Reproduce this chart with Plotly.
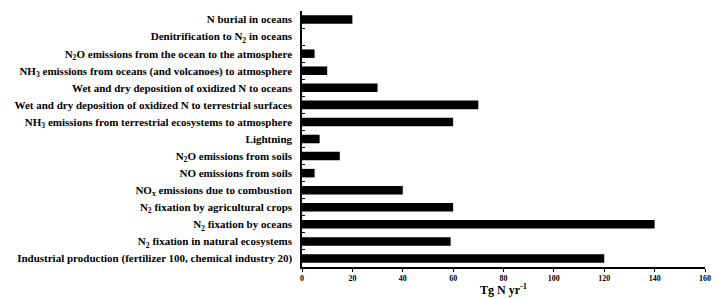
import plotly.graph_objects as go

categories = [
    "Industrial production (fertilizer 100, chemical industry 20)",
    "N<sub>2</sub> fixation in natural ecosystems",
    "N<sub>2</sub> fixation by oceans",
    "N<sub>2</sub> fixation by agricultural crops",
    "NO<sub>x</sub> emissions due to combustion",
    "NO emissions from soils",
    "N<sub>2</sub>O emissions from soils",
    "Lightning",
    "NH<sub>3</sub> emissions from terrestrial ecosystems to atmosphere",
    "Wet and dry deposition of oxidized N to terrestrial surfaces",
    "Wet and dry deposition of oxidized N to oceans",
    "NH<sub>3</sub> emissions from oceans (and volcanoes) to atmosphere",
    "N<sub>2</sub>O emissions from the ocean to the atmosphere",
    "Denitrification to N<sub>2</sub> in oceans",
    "N burial in oceans",
]
values = [120, 59, 140, 60, 40, 5, 15, 7, 60, 70, 30, 10, 5, 0, 20]
x_ticks = [0, 20, 40, 60, 80, 100, 120, 140, 160]

fig = go.Figure(go.Bar(
    x=values, y=categories, orientation="h",
    marker=dict(color="black", line=dict(width=0)),
))
# page body has an 8px margin, so the figure is offset by 8px
fig.update_layout(
    width=709, height=289,
    margin=dict(l=294, r=12, t=3, b=30),
    plot_bgcolor="white", paper_bgcolor="white",
    bargap=0.5, showlegend=False,
    font=dict(family="Liberation Serif", color="black"),
)
fig.update_xaxes(
    range=[0, 160], tickvals=x_ticks, ticks="outside", ticklen=3,
    tickcolor="black", showline=True, linecolor="black", linewidth=1.5,
    showgrid=False, zeroline=False, automargin=False,
    tickfont=dict(size=8, family="Liberation Serif", weight="bold"),
    title=dict(text="<b>Tg N yr<sup>-1</sup></b>", font=dict(size=12), standoff=4),
)
fig.update_yaxes(
    type="category", categoryorder="array", categoryarray=categories,
    tickson="boundaries", ticks="inside", ticklen=3, tickcolor="black",
    showline=True, linecolor="black", linewidth=1.5, showgrid=False,
    automargin=False,
    tickfont=dict(size=11, family="Liberation Serif", weight="bold"),
    ticklabelstandoff=6,
)
fig.write_html("out.html")
